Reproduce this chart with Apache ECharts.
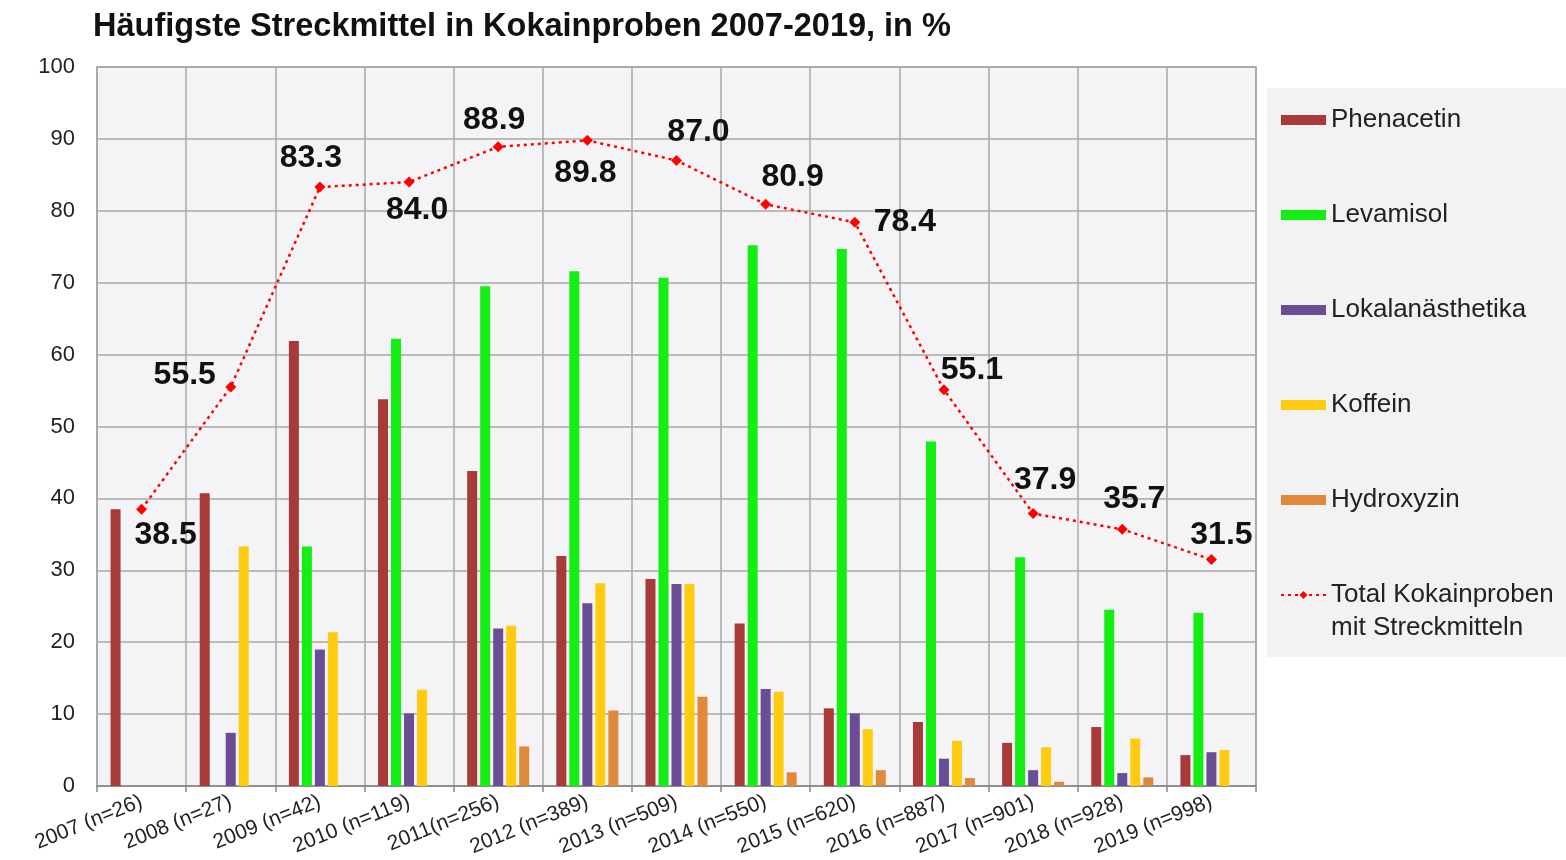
<!DOCTYPE html>
<html>
<head>
<meta charset="utf-8">
<script src="https://cdn.jsdelivr.net/npm/echarts@6/dist/echarts.min.js"></script>
<style>
  html, body { margin: 0; padding: 0; background: #fff; }
  #chart { width: 1566px; height: 860px; }
</style>
</head>
<body>
<div id="chart"></div>
<script>
const years = ['2007 (n=26)', '2008 (n=27)', '2009 (n=42)', '2010 (n=119)', '2011(n=256)', '2012 (n=389)',
  '2013 (n=509)', '2014 (n=550)', '2015 (n=620)', '2016 (n=887)', '2017 (n=901)', '2018 (n=928)', '2019 (n=998)']

const phenacetin = [38.5, 40.7, 61.9, 53.8, 43.8, 32.0, 28.8, 22.6, 10.8, 8.9, 6.0, 8.2, 4.3]
const levamisol = [0, 0, 33.3, 62.2, 69.5, 71.6, 70.7, 75.2, 74.7, 47.9, 31.8, 24.5, 24.1]
const lokalanaesthetika = [0, 7.4, 19.0, 10.1, 21.9, 25.4, 28.1, 13.5, 10.1, 3.8, 2.2, 1.8, 4.7]
const koffein = [0, 33.3, 21.4, 13.4, 22.3, 28.2, 28.1, 13.1, 7.9, 6.3, 5.4, 6.6, 5.0]
const hydroxyzin = [0, 0, 0, 0, 5.5, 10.5, 12.4, 1.9, 2.2, 1.1, 0.6, 1.2, 0]
const total = [38.5, 55.5, 83.3, 84.0, 88.9, 89.8, 87.0, 80.9, 78.4, 55.1, 37.9, 35.7, 31.5]

// where each value label of the total line sits, relative to its point
const totalLabelOffsets = [[24, 26], [-46, -12], [-9, -29], [8, 28], [-4, -27], [-2, 33], [22, -28],
  [27, -27], [50, 0], [28, -20], [12, -33], [12, -30], [10, -24]]

const FONT = 'Liberation Sans, Arial, sans-serif'
const TOTAL_NAME = 'Total Kokainproben'
const TOTAL_NAME_2 = 'mit Streckmitteln'

function barSeries(name, data, color) {
  return {
    name,
    type: 'bar',
    data,
    barWidth: 10,
    barGap: '30%',
    itemStyle: { color },
  }
}

const chart = echarts.init(document.getElementById('chart'))
chart.setOption({
  animation: false,
  backgroundColor: '#fff',
  textStyle: { fontFamily: FONT },
  title: {
    text: 'Häufigste Streckmittel in Kokainproben 2007-2019, in %',
    left: 88,
    top: 6,
    textStyle: { fontSize: 32.5, fontWeight: 'bold', color: '#111', fontFamily: FONT },
  },
  grid: {
    left: 97, right: 310, top: 67, bottom: 74,
    show: true,
    backgroundColor: '#f4f4f6',
    borderColor: '#9a9a9a',
    borderWidth: 1.5,
  },
  legend: {
    orient: 'vertical',
    left: 1267,
    top: 88,
    padding: [16, 14, 46, 13],
    backgroundColor: '#f2f2f2',
    itemWidth: 45,
    itemHeight: 10,
    itemGap: 63,
    textStyle: { fontSize: 26, lineHeight: 32, color: '#222', fontFamily: FONT },
    data: [
      { name: 'Phenacetin', icon: 'rect' },
      { name: 'Levamisol', icon: 'rect' },
      { name: 'Lokalanästhetika', icon: 'rect' },
      { name: 'Koffein', icon: 'rect' },
      { name: 'Hydroxyzin', icon: 'rect' },
      { name: TOTAL_NAME },
    ],
  },
  graphic: [{
    type: 'text',
    left: 1331,
    top: 615,
    z: 100,
    style: { text: TOTAL_NAME_2, fontSize: 26, fill: '#222', fontFamily: FONT },
  }],
  xAxis: {
    type: 'category',
    data: years,
    axisLine: { lineStyle: { color: '#888', width: 1.5 } },
    axisTick: { show: true, length: 6, lineStyle: { color: '#888', width: 1.5 } },
    axisLabel: { interval: 0, rotate: 22, fontSize: 21, color: '#222', margin: 15 },
    splitLine: { show: true, interval: 0, lineStyle: { color: '#a8a8a8', width: 1.5 } },
  },
  yAxis: {
    type: 'value',
    min: 0,
    max: 100,
    interval: 10,
    axisLine: { show: false },
    axisTick: { show: false },
    axisLabel: { fontSize: 22, color: '#222', margin: 22 },
    splitLine: { lineStyle: { color: '#a8a8a8', width: 1.5 } },
  },
  series: [
    barSeries('Phenacetin', phenacetin, '#a83a3a'),
    barSeries('Levamisol', levamisol, '#14ee14'),
    barSeries('Lokalanästhetika', lokalanaesthetika, '#6a4d94'),
    barSeries('Koffein', koffein, '#ffcb10'),
    barSeries('Hydroxyzin', hydroxyzin, '#e0893a'),
    {
      name: TOTAL_NAME,
      type: 'line',
      data: total.map((v, i) => ({
        value: v,
        label: { offset: totalLabelOffsets[i] },
      })),
      symbol: 'diamond',
      symbolSize: 11,
      itemStyle: { color: '#f00' },
      lineStyle: { color: '#f00', width: 2.5, type: [3, 4] },
      label: {
        show: true,
        position: 'inside',
        fontSize: 32,
        fontWeight: 'bold',
        color: '#111',
        formatter: (p) => p.value.toFixed(1),
      },
      z: 5,
    },
  ],
})
</script>
</body>
</html>
